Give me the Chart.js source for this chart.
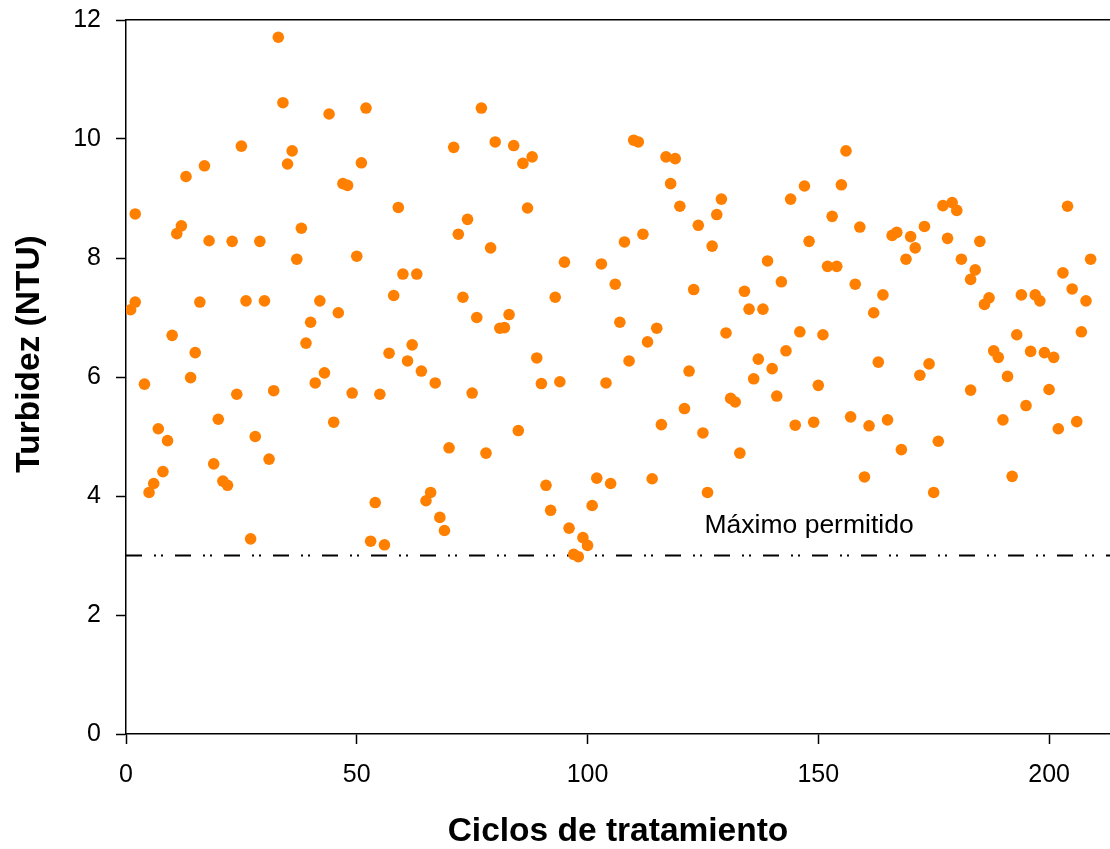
<!DOCTYPE html>
<html>
<head>
<meta charset="utf-8">
<script src="https://cdn.jsdelivr.net/npm/chart.js@4.4.1/dist/chart.umd.min.js"></script>
<style>
  html, body { margin: 0; padding: 0; background: #fff; }
  #wrap { width: 1110px; height: 849px; position: relative; }
</style>
</head>
<body>
<div id="wrap"><canvas id="turbChart"></canvas></div>
<script>
// Data
const cycles = [
    1, 2, 2, 4, 5, 6, 7, 8, 9, 10,
    11, 12, 13, 14, 15, 16, 17, 18, 19, 20,
    21, 22, 23, 24, 25, 26, 27, 28, 29, 30,
    31, 32, 33, 34, 35, 36, 37, 38, 39, 40,
    41, 42, 43, 44, 45, 46, 47, 48, 49, 50,
    51, 52, 53, 54, 55, 56, 57, 58, 59, 60,
    61, 62, 63, 64, 65, 66, 67, 68, 69, 70,
    71, 72, 73, 74, 75, 76, 77, 78, 79, 80,
    81, 82, 83, 84, 85, 86, 87, 88, 89, 90,
    91, 92, 93, 94, 95, 96, 97, 98, 99, 100,
    101, 102, 103, 104, 105, 106, 107, 108, 109, 110,
    111, 112, 113, 114, 115, 116, 117, 118, 119, 120,
    121, 122, 123, 124, 125, 126, 127, 128, 129, 130,
    131, 132, 133, 134, 135, 136, 137, 138, 139, 140,
    141, 142, 143, 144, 145, 146, 147, 148, 149, 150,
    151, 152, 153, 154, 155, 156, 157, 158, 159, 160,
    161, 162, 163, 164, 165, 166, 167, 168, 169, 170,
    171, 172, 173, 174, 175, 176, 177, 178, 179, 180,
    181, 183, 183, 184, 185, 186, 187, 188, 189, 190,
    191, 192, 193, 194, 195, 196, 197, 198, 199, 200,
    201, 202, 203, 204, 205, 206, 207, 208, 209
];
const turbidity = [
    7.13, 7.26, 8.74, 5.88, 4.06, 4.21, 5.13, 4.41, 4.93, 6.70,
    8.41, 8.54, 9.37, 5.99, 6.41, 7.26, 9.55, 8.29, 4.54, 5.29,
    4.25, 4.18, 8.28, 5.71, 9.88, 7.28, 3.28, 5.00, 8.28, 7.28,
    4.62, 5.77, 11.71, 10.61, 9.58, 9.80, 7.98, 8.50, 6.57, 6.92,
    5.90, 7.28, 6.07, 10.42, 5.24, 7.08, 9.25, 9.22, 5.73, 8.03,
    9.60, 10.52, 3.24, 3.89, 5.71, 3.18, 6.40, 7.37, 8.85, 7.73,
    6.27, 6.54, 7.73, 6.10, 3.92, 4.06, 5.90, 3.64, 3.42, 4.81,
    9.86, 8.40, 7.34, 8.65, 5.73, 7.00, 10.52, 4.72, 8.17, 9.95,
    6.82, 6.83, 7.05, 9.89, 5.10, 9.59, 8.84, 9.70, 6.32, 5.89,
    4.18, 3.76, 7.34, 5.92, 7.93, 3.46, 3.02, 2.98, 3.30, 3.17,
    3.84, 4.30, 7.90, 5.90, 4.21, 7.56, 6.92, 8.27, 6.27, 9.98,
    9.95, 8.40, 6.59, 4.29, 6.82, 5.20, 9.70, 9.25, 9.67, 8.87,
    5.47, 6.10, 7.47, 8.55, 5.06, 4.06, 8.20, 8.73, 8.99, 6.74,
    5.64, 5.58, 4.72, 7.44, 7.14, 5.97, 6.30, 7.14, 7.95, 6.14,
    5.68, 7.60, 6.44, 8.99, 5.19, 6.76, 9.21, 8.28, 5.24, 5.86,
    6.71, 7.86, 8.70, 7.86, 9.23, 9.80, 5.33, 7.56, 8.52, 4.32,
    5.18, 7.08, 6.25, 7.38, 5.28, 8.38, 8.43, 4.78, 7.98, 8.36,
    8.17, 6.03, 8.53, 6.22, 4.06, 4.92, 8.88, 8.33, 8.93, 8.80,
    7.98, 5.78, 7.64, 7.80, 8.28, 7.22, 7.33, 6.44, 6.33, 5.28,
    6.01, 4.33, 6.71, 7.38, 5.52, 6.43, 7.38, 7.28, 6.41, 5.79,
    6.33, 5.13, 7.75, 8.87, 7.48, 5.25, 6.76, 7.28, 7.98
];

// Maximum allowed turbidity (reference line)
const limitX = [0, 213.2];
const limitY = [3, 3];
const limitLabel = 'Máximo permitido';
const limitLabelPos = [148, 3.37];

// Axes
const xTicks = [0, 50, 100, 150, 200];
const yTicks = [0, 2, 4, 6, 8, 10, 12];
const xRange = [0, 213.2];
const yRange = [0, 12];
const xTitle = 'Ciclos de tratamiento';
const yTitle = 'Turbidez (NTU)';

const FONT = '"Liberation Sans", Arial, Helvetica, sans-serif';
Chart.defaults.font.family = FONT;
Chart.defaults.color = '#000';

// y title drawn by hand, it sits a bit above the axis middle
const yTitlePlugin = {
    id: 'yTitle',
    afterDraw: (chart) => {
        const ctx = chart.ctx;
        const area = chart.chartArea;
        ctx.save();
        ctx.translate(39, (area.top + area.bottom) / 2 - 23);
        ctx.rotate(-Math.PI / 2);
        ctx.font = 'bold 33.5px ' + FONT;
        ctx.fillStyle = '#000';
        ctx.textAlign = 'center';
        ctx.textBaseline = 'alphabetic';
        ctx.fillText(yTitle, 0, 0);
        ctx.restore();
    }
};

// text over the limit line
const limitLabelPlugin = {
    id: 'limitLabel',
    afterDatasetsDraw: (chart) => {
        const ctx = chart.ctx;
        const px = chart.scales.x.getPixelForValue(limitLabelPos[0]);
        const py = chart.scales.y.getPixelForValue(limitLabelPos[1]);
        ctx.save();
        ctx.font = '26.5px ' + FONT;
        ctx.fillStyle = '#000';
        ctx.textAlign = 'center';
        ctx.textBaseline = 'alphabetic';
        ctx.fillText(limitLabel, px, py);
        ctx.restore();
    }
};

// keep the plot box where the reference has it
const noPad = (scale) => {
    scale.paddingTop = 0;
    scale.paddingBottom = 0;
    scale.paddingLeft = 0;
    scale.paddingRight = 0;
};

const points = cycles.map((c, i) => ({ x: c, y: turbidity[i] }));
const limitLine = limitX.map((x, i) => ({ x: x, y: limitY[i] }));

const axisGrid = {
    drawOnChartArea: false,
    drawTicks: true,
    tickLength: 10,
    tickWidth: 1.5,
    tickColor: '#000'
};
const axisBorder = { display: true, color: '#000', width: 1.5 };

const ctx = document.getElementById('turbChart').getContext('2d');
new Chart(ctx, {
    type: 'scatter',
    data: {
        datasets: [
            {
                label: 'Turbidez',
                data: points,
                backgroundColor: '#ff8000',
                borderWidth: 0,
                pointRadius: 5.8,
                pointHoverRadius: 5.8,
                order: 0
            },
            {
                type: 'line',
                label: limitLabel,
                data: limitLine,
                borderColor: '#000',
                borderWidth: 2,
                borderDash: [16, 12, 2, 5, 2, 12],
                borderCapStyle: 'butt',
                pointRadius: 0,
                fill: false,
                order: 1
            }
        ]
    },
    options: {
        responsive: true,
        maintainAspectRatio: false,
        animation: false,
        layout: { autoPadding: false, padding: { top: 20, right: 0, bottom: 0, left: 0 } },
        plugins: {
            legend: { display: false },
            tooltip: { enabled: false }
        },
        scales: {
            x: {
                type: 'linear',
                position: 'bottom',
                min: xRange[0],
                max: xRange[1],
                afterBuildTicks: (scale) => { scale.ticks = xTicks.map(v => ({ value: v })); },
                afterFit: (scale) => { scale.height = 115; noPad(scale); },
                ticks: { color: '#000', font: { size: 25 }, padding: 16, autoSkip: false, maxRotation: 0 },
                grid: axisGrid,
                border: axisBorder,
                title: {
                    display: true,
                    text: xTitle,
                    color: '#000',
                    font: { size: 33.5, weight: 'bold', lineHeight: 1 },
                    padding: { top: 0, bottom: 0 }
                }
            },
            x2: {
                type: 'linear',
                position: 'top',
                min: xRange[0],
                max: xRange[1],
                afterFit: (scale) => { scale.height = 0; noPad(scale); },
                ticks: { display: false },
                grid: { drawOnChartArea: false, drawTicks: false },
                border: axisBorder
            },
            y: {
                type: 'linear',
                min: yRange[0],
                max: yRange[1],
                afterBuildTicks: (scale) => { scale.ticks = yTicks.map(v => ({ value: v })); },
                afterFit: (scale) => { scale.width = 126; noPad(scale); },
                ticks: { color: '#000', font: { size: 25 }, padding: 15, autoSkip: false },
                grid: axisGrid,
                border: axisBorder
            }
        }
    },
    plugins: [yTitlePlugin, limitLabelPlugin]
});
</script>
</body>
</html>
